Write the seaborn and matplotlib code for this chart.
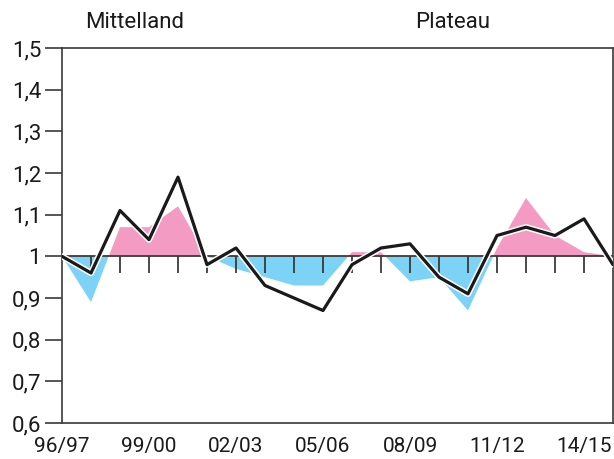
import numpy as np
import pandas as pd
import matplotlib
matplotlib.use("Agg")
import matplotlib.pyplot as plt
import matplotlib.patheffects as pe
import seaborn as sns

periods = ["96/97", "97/98", "98/99", "99/00", "00/01", "01/02", "02/03", "03/04",
           "04/05", "05/06", "06/07", "07/08", "08/09", "09/10", "10/11", "11/12",
           "12/13", "13/14", "14/15", "15/16"]
area_values = [1.00, 0.89, 1.07, 1.07, 1.12, 1.00, 0.97, 0.95, 0.93, 0.93,
               1.01, 1.01, 0.94, 0.95, 0.87, 1.02, 1.14, 1.05, 1.01, 1.00]
line_values = [1.00, 0.96, 1.11, 1.04, 1.19, 0.98, 1.02, 0.93, 0.90, 0.87,
               0.98, 1.02, 1.03, 0.95, 0.91, 1.05, 1.07, 1.05, 1.09, 0.98]
y_ticks = [0.6, 0.7, 0.8, 0.9, 1.0, 1.1, 1.2, 1.3, 1.4, 1.5]
y_tick_labels = ["0,6", "0,7", "0,8", "0,9", "1", "1,1", "1,2", "1,3", "1,4", "1,5"]
x_label_every = 3
title_left = "Mittelland"
title_right = "Plateau"

sns.set_style("white")
plt.rcParams['font.family'] = ['Roboto', 'DejaVu Sans']

df = pd.DataFrame({"idx": np.arange(len(periods)), "area": area_values, "line": line_values})

fig = plt.figure(figsize=(6.14, 4.59), dpi=100)
ax = fig.add_axes([62/614, 1 - 423/459, (613 - 62)/614, (423 - 48)/459])

x = df["idx"].to_numpy()
a = df["area"].to_numpy()
ax.fill_between(x, 1, a, where=a >= 1, interpolate=True, color="#F39BC3", linewidth=0, zorder=1)
ax.fill_between(x, 1, a, where=a <= 1, interpolate=True, color="#7DD3F5", linewidth=0, zorder=1)

ax.axhline(1.0, color="#3a3a3a", lw=1.3, zorder=2)
ax.vlines(x[1:-1], 1 - 0.041, 1.0, color="#3a3a3a", lw=1.3, zorder=2)

sns.lineplot(data=df, x="idx", y="line", ax=ax, color="#1a1a1a", lw=2.3, zorder=3,
             path_effects=[pe.Stroke(linewidth=4.5, foreground="white"), pe.Normal()])

ax.set_xlim(0, len(periods) - 1)
ax.set_ylim(0.6, 1.5)
ax.set_yticks(y_ticks)
ax.set_yticklabels(y_tick_labels, fontsize=16, color="#1a1a1a")
ax.set_xticks(x[::x_label_every])
ax.set_xticklabels(periods[::x_label_every], fontsize=15, color="#1a1a1a")
ax.tick_params(axis="y", direction="out", length=12, width=1.2, color="#3a3a3a", pad=3, left=True)
ax.tick_params(axis="x", length=0, pad=10)
ax.set_xlabel("")
ax.set_ylabel("")
for s in ax.spines.values():
    s.set_color("#3a3a3a")
    s.set_linewidth(1.2)

fig.text(135/614, 1 - 22/459, title_left, ha="center", va="center", fontsize=16, color="#1a1a1a")
fig.text(453/614, 1 - 22/459, title_right, ha="center", va="center", fontsize=16, color="#1a1a1a")

fig.savefig("out.png", dpi=100)
